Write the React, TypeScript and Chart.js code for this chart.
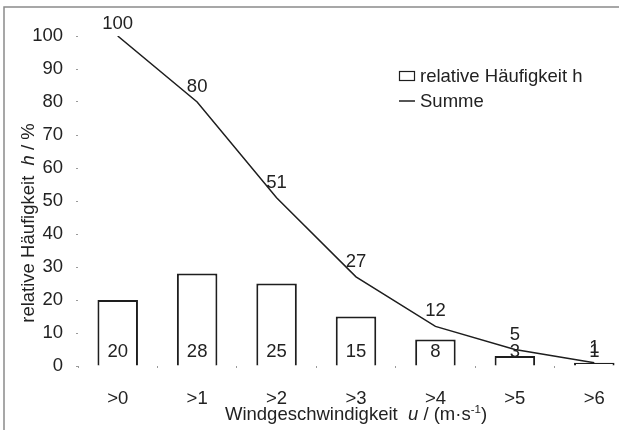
import React, { useEffect, useRef } from "react";
import { Chart, registerables } from "chart.js";

Chart.register(...registerables);

// ---- data ----
const categories = [">0", ">1", ">2", ">3", ">4", ">5", ">6"];
const haeufigkeit = [20, 28, 25, 15, 8, 3, 1];
const summe = [100, 80, 51, 27, 12, 5, 1];
const yMin = 0;
const yMax = 100;
const yStep = 10;
const barLabel = "relative Häufigkeit h";
const lineLabel = "Summe";
const yTitleParts = [
  { t: "relative Häufigkeit  ", i: false, sup: false },
  { t: "h", i: true, sup: false },
  { t: " / %", i: false, sup: false },
];
const xTitleParts = [
  { t: "Windgeschwindigkeit  ", i: false, sup: false },
  { t: "u", i: true, sup: false },
  { t: " / (m·s", i: false, sup: false },
  { t: "-1", i: false, sup: true },
  { t: ")", i: false, sup: false },
];

const FONT = "'Liberation Sans', Arial, Helvetica, sans-serif";
const TEXT = "#222222";
const INK = "#1e1e1e";
const FS = 18.5;

type Part = { t: string; i: boolean; sup: boolean };

function partFont(p: Part) {
  return `${p.i ? "italic " : ""}${p.sup ? 11.5 : FS}px ${FONT}`;
}

function drawParts(ctx: CanvasRenderingContext2D, parts: Part[], cx: number, baseY: number) {
  let total = 0;
  const widths = parts.map((p) => {
    ctx.font = partFont(p);
    const w = ctx.measureText(p.t).width;
    total += w;
    return w;
  });
  let x = cx - total / 2;
  ctx.textAlign = "left";
  ctx.textBaseline = "alphabetic";
  parts.forEach((p, i) => {
    ctx.font = partFont(p);
    ctx.fillText(p.t, x, baseY + (p.sup ? -7 : 0));
    x += widths[i];
  });
}

const annotate = {
  id: "annotate",
  beforeDraw(chart: any) {
    const ctx = chart.ctx as CanvasRenderingContext2D;
    ctx.save();
    ctx.strokeStyle = "#8a8a8a";
    ctx.lineWidth = 1.5;
    ctx.strokeRect(4, 7, chart.width + 40, chart.height + 40);
    ctx.restore();
  },
  afterDatasetsDraw(chart: any) {
    const ctx = chart.ctx as CanvasRenderingContext2D;
    const ys = chart.scales.y;
    const xs = chart.scales.x;
    ctx.save();
    ctx.fillStyle = TEXT;
    ctx.font = `${FS}px ${FONT}`;
    ctx.textAlign = "center";
    ctx.textBaseline = "alphabetic";

    // bar value labels (near base, inside bars)
    const barMeta = chart.getDatasetMeta(1);
    barMeta.data.forEach((el: any, i: number) => {
      ctx.fillText(String(haeufigkeit[i]), el.x, ys.getPixelForValue(0) - 9);
    });
    // cumulative labels above points
    const lineMeta = chart.getDatasetMeta(0);
    lineMeta.data.forEach((el: any, i: number) => {
      ctx.fillText(String(summe[i]), el.x, el.y - (i === 0 ? 7 : 10));
    });

    // legend
    ctx.strokeStyle = INK;
    ctx.lineWidth = 1.2;
    ctx.strokeRect(399.5, 71.5, 15, 9);
    ctx.beginPath();
    ctx.lineWidth = 1.5;
    ctx.moveTo(399, 101);
    ctx.lineTo(415, 101);
    ctx.stroke();
    ctx.textAlign = "left";
    ctx.font = `${FS}px ${FONT}`;
    ctx.fillText(chart.data.datasets[1].label, 420, 82);
    ctx.fillText(chart.data.datasets[0].label, 420, 107);

    // x axis title
    drawParts(ctx, xTitleParts, (xs.left + xs.right) / 2, 420);

    // y axis title (rotated)
    ctx.save();
    ctx.translate(34, 223);
    ctx.rotate(-Math.PI / 2);
    drawParts(ctx, yTitleParts, 0, 0);
    ctx.restore();

    ctx.restore();
  },
};

export default function App() {
  const ref = useRef<HTMLCanvasElement | null>(null);

  useEffect(() => {
    if (!ref.current) return;
    const chart = new Chart(ref.current, {
      type: "bar",
      data: {
        labels: categories,
        datasets: [
          {
            type: "line",
            label: lineLabel,
            data: summe,
            borderColor: INK,
            borderWidth: 1.5,
            pointRadius: 0,
            tension: 0,
            fill: false,
            order: 0,
          } as any,
          {
            type: "bar",
            label: barLabel,
            data: haeufigkeit,
            backgroundColor: "#ffffff",
            borderColor: INK,
            borderWidth: 2,
            categoryPercentage: 1,
            barPercentage: 0.51,
            order: 1,
          },
        ],
      },
      options: {
        responsive: false,
        animation: false,
        devicePixelRatio: 1,
        layout: { padding: { left: 0, right: 6, top: 36, bottom: 0 } },
        plugins: {
          legend: { display: false },
          tooltip: { enabled: false },
        },
        scales: {
          x: {
            offset: true,
            border: { display: false },
            grid: {
              offset: true,
              drawOnChartArea: false,
              drawTicks: true,
              tickLength: 2,
              color: "#9a9a9a",
            },
            ticks: {
              color: TEXT,
              font: { family: FONT, size: FS },
              padding: 20,
              maxRotation: 0,
            },
            afterFit(scale: any) {
              scale.height = 64;
            },
          },
          y: {
            min: yMin,
            max: yMax,
            border: { display: false },
            grid: {
              drawOnChartArea: false,
              drawTicks: true,
              tickLength: 2,
              color: "#9a9a9a",
            },
            ticks: {
              stepSize: yStep,
              color: TEXT,
              font: { family: FONT, size: FS },
              padding: 13,
            },
            afterFit(scale: any) {
              scale.width = 78;
            },
          },
        },
      },
      plugins: [annotate],
    });
    return () => chart.destroy();
  }, []);

  return (
    <div
      style={{
        position: "fixed",
        left: 0,
        top: 0,
        width: 640,
        height: 430,
        background: "#ffffff",
        overflow: "hidden",
      }}
    >
      <canvas ref={ref} width={640} height={430} style={{ width: 640, height: 430, display: "block" }} />
    </div>
  );
}
